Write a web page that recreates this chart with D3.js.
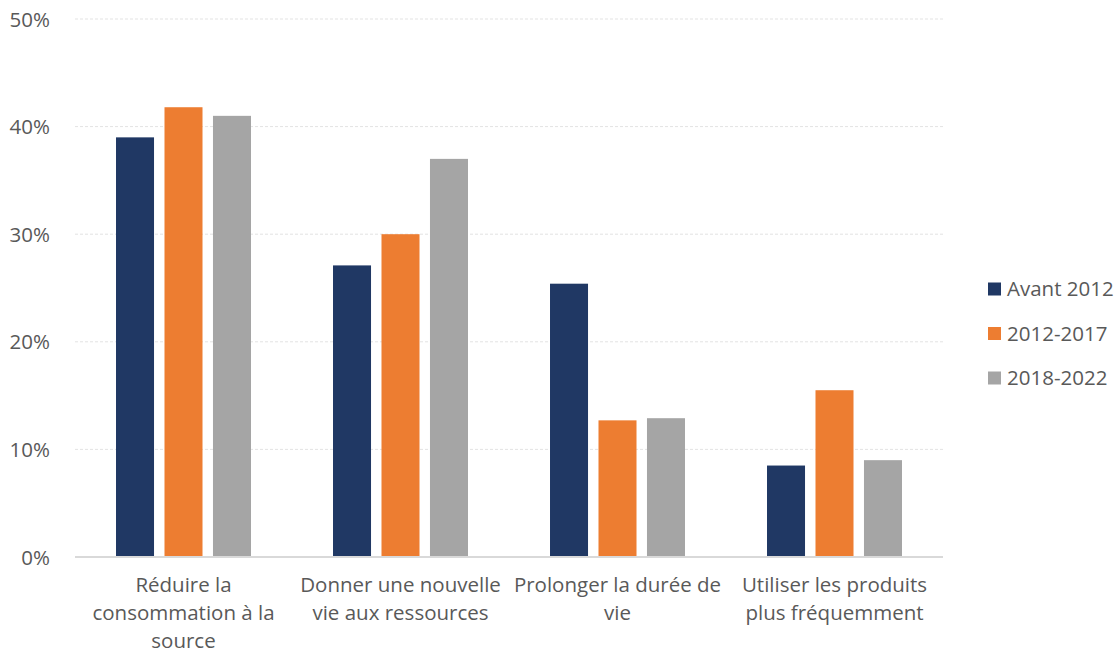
<!DOCTYPE html>
<html>
<head>
<meta charset="utf-8">
<script src="https://cdn.jsdelivr.net/npm/d3@7"></script>
<style>
  body { margin: 0; background: #fff; }
  text { font-family: "Open Sans", sans-serif; fill: #595959; }
</style>
</head>
<body>
<div id="chart"></div>
<script>
// data
const categories = [
	"Réduire la\nconsommation à la\nsource",
	"Donner une nouvelle\nvie aux ressources",
	"Prolonger la durée de\nvie",
	"Utiliser les produits\nplus fréquemment"
];
const seriesNames = ["Avant 2012", "2012-2017", "2018-2022"];
const avant2012 = [0.390, 0.271, 0.254, 0.085];
const p2012_2017 = [0.418, 0.300, 0.127, 0.155];
const p2018_2022 = [0.410, 0.370, 0.129, 0.090];
const yTicks = [0, 0.1, 0.2, 0.3, 0.4, 0.5];
const colors = ["#203864", "#ED7D31", "#A5A5A5"];

const seriesValues = [avant2012, p2012_2017, p2018_2022];

const W = 1120, H = 655;
const margin = { top: 19, right: 177, bottom: 98, left: 75 },
	width = W - margin.left - margin.right,
	height = H - margin.top - margin.bottom;

const svg = d3.select("#chart")
	.append("svg")
	.attr("width", W)
	.attr("height", H)
	.append("g")
	.attr("transform", `translate(${margin.left},${margin.top})`);

// scales
const x0 = d3.scaleBand()
	.domain(categories)
	.range([0, width])
	.paddingInner(0.378)
	.paddingOuter(0.189);

const x1 = d3.scaleBand()
	.domain(seriesNames)
	.range([0, x0.bandwidth()])
	.paddingInner(0.216);

const y = d3.scaleLinear()
	.domain([0, 0.5])
	.range([height, 0]);

// gridlines
svg.append("g")
	.selectAll("line")
	.data(yTicks.filter(d => d > 0))
	.join("line")
	.attr("x1", 0)
	.attr("x2", width)
	.attr("y1", d => y(d))
	.attr("y2", d => y(d))
	.attr("stroke", "#e3e3e3")
	.attr("stroke-width", 1)
	.attr("stroke-dasharray", "3,2");

// Y axis labels
const yAxis = svg.append("g")
	.attr("transform", "translate(-22,0)")
	.call(d3.axisLeft(y).tickValues(yTicks).tickFormat(d3.format(".0%")).tickSize(0));
yAxis.select(".domain").remove();
yAxis.selectAll("text")
	.style("font-size", "20.5px")
	.attr("fill", "#595959")
	.attr("dy", "0.35em");

// bars
const groups = svg.append("g")
	.selectAll("g")
	.data(categories)
	.join("g")
	.attr("transform", d => `translate(${x0(d)},0)`);

groups.selectAll("rect")
	.data((d, i) => seriesNames.map((s, j) => ({ s: s, v: seriesValues[j][i], j: j })))
	.join("rect")
	.attr("x", d => x1(d.s))
	.attr("width", x1.bandwidth())
	.attr("y", d => y(d.v))
	.attr("height", d => y(0) - y(d.v))
	.attr("fill", d => colors[d.j]);

// baseline
svg.append("line")
	.attr("x1", 0)
	.attr("x2", width)
	.attr("y1", y(0))
	.attr("y2", y(0))
	.attr("stroke", "#d9d9d9")
	.attr("stroke-width", 2);

// X axis labels (multi-line)
const xAxis = svg.append("g")
	.attr("transform", `translate(0,${height})`)
	.call(d3.axisBottom(x0).tickSize(0).tickFormat(""));
xAxis.select(".domain").remove();
xAxis.selectAll(".tick").each(function (d) {
	const t = d3.select(this).append("text")
		.attr("text-anchor", "middle")
		.attr("fill", "#595959")
		.style("font-size", "20.5px");
	d.split("\n").forEach((line, i) => {
		t.append("tspan")
			.attr("x", 0)
			.attr("y", 28 + i * 28)
			.attr("dy", "0.35em")
			.text(line);
	});
});

// legend
const legend = svg.append("g")
	.attr("transform", `translate(${width + 45},${270})`);

const item = legend.selectAll("g")
	.data(seriesNames)
	.join("g")
	.attr("transform", (d, i) => `translate(0,${i * 44.5})`);

item.append("rect")
	.attr("x", 0)
	.attr("y", -6.5)
	.attr("width", 13)
	.attr("height", 13)
	.attr("fill", (d, i) => colors[i]);

item.append("text")
	.attr("x", 19)
	.attr("dy", "0.35em")
	.style("font-size", "20.5px")
	.text(d => d);
</script>
</body>
</html>
